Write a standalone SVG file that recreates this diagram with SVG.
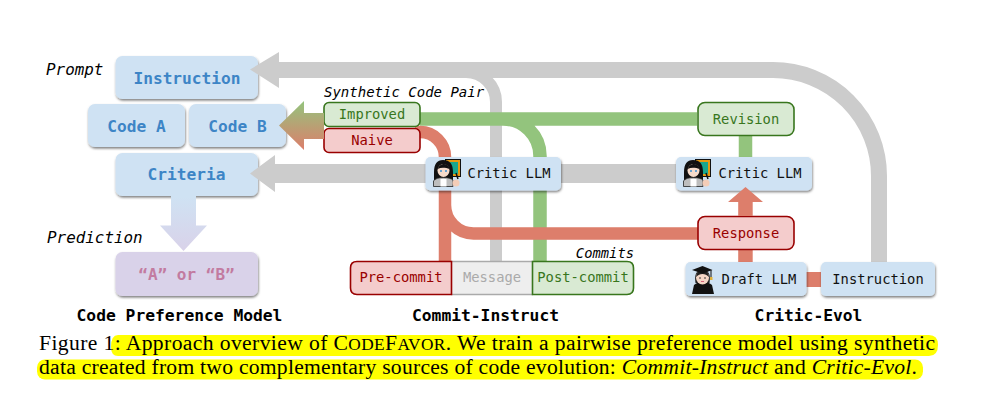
<svg xmlns="http://www.w3.org/2000/svg" xmlns:xlink="http://www.w3.org/1999/xlink" width="985" height="419" viewBox="0 0 985 419">
<style>
text{font-family:"DejaVu Sans Mono","Liberation Mono",monospace}
.cap,.cap tspan{font-family:"Liberation Serif","Times New Roman",serif;font-size:21.6px;fill:#000}
.cap .sc{font-size:17.3px}
.i{font-style:italic}
.lab{font-size:15.9px;fill:#000;font-style:italic}
.ttl{font-size:16.3px;font-weight:700;fill:#000;text-anchor:middle}
.b{fill:#cfe2f3}
.bt{font-size:16.2px;font-weight:600;fill:#3d85c6;text-anchor:middle}
.bs{font-size:13.8px;fill:#111;text-anchor:middle}
.g{fill:#d9ead3;stroke:#38761d;stroke-width:1.6}
.gt{font-size:13.8px;fill:#38761d;text-anchor:middle}
.r{fill:#f4cccc;stroke:#990000;stroke-width:1.6}
.rt{font-size:13.8px;fill:#990000;text-anchor:middle}
.ln{fill:none}
.sh{filter:url(#sd)}
</style>
<defs>
<filter id="sd" x="-10%" y="-15%" width="120%" height="140%"><feDropShadow dx="0.6" dy="1.6" stdDeviation="0.8" flood-color="#000" flood-opacity="0.5"/></filter>
<linearGradient id="gr" gradientUnits="userSpaceOnUse" x1="0" y1="101" x2="0" y2="150"><stop offset="0" stop-color="#93c47d"/><stop offset="1" stop-color="#dd7e6b"/></linearGradient>
<linearGradient id="pu" gradientUnits="userSpaceOnUse" x1="0" y1="197" x2="0" y2="251"><stop offset="0" stop-color="#cfe2f3"/><stop offset="1" stop-color="#d9d2e9"/></linearGradient>
<symbol id="teacher" viewBox="0 0 28 28" overflow="visible">
<rect x="12.500" y="0.500" width="15" height="17" fill="#e69a12" stroke="#111" stroke-width="1"/>
<rect x="17" y="3" width="8" height="12" fill="#17a78e"/>
<path d="M1,27V13C1,5 4,1 10,1C17,1 20,5 20,13V21H1Z" fill="#111"/>
<path d="M0.500,27.500V22C2,19.500 6,18.500 10.500,18.500C15,18.500 18.500,19.500 20,21V27.500Z" fill="#bdbdbd" stroke="#222" stroke-width="0.800"/>
<rect x="7.500" y="20" width="6" height="7.500" fill="#fff"/>
<ellipse cx="10.500" cy="11.500" rx="6" ry="6.500" fill="#f7dccb"/>
<path d="M4.500,10C6,6 9,5 11,5C14,5 16,7 16.500,10C13,9 9,8 4.500,10Z" fill="#111"/>
<circle cx="8" cy="12" r="1" fill="#3b8fd1"/><circle cx="13" cy="12" r="1" fill="#3b8fd1"/>
<path d="M23,14L25,20" stroke="#111" stroke-width="1.500"/>
<ellipse cx="23" cy="24" rx="3.500" ry="3.500" fill="#f3cdb7"/>
</symbol>
<symbol id="student" viewBox="0 0 22 28" overflow="visible">
<path d="M0,28L2,19C4,17 7,16 11,16C15,16 18,17 20,19L22,28Z" fill="#111"/>
<path d="M3.500,17C2.500,11 3.500,7 6,5H15C17.500,7 18.500,11 17.500,17Z" fill="#222"/>
<ellipse cx="10.500" cy="11.500" rx="6.500" ry="7" fill="#f5d6c6"/>
<path d="M4,11C4.500,8 5.500,6 7,5H14C15.500,6 16.500,8 17,11C15,9 13,8 10.500,8C8,8 6,9 4,11Z" fill="#222"/>
<path d="M0,4L10.500,0L20.500,4L10.500,7.500Z" fill="#111"/>
<path d="M19,4V11" stroke="#111" stroke-width="1"/><rect x="18" y="11" width="2.500" height="3" fill="#e2b33c"/>
<circle cx="8" cy="12" r="0.800" fill="#222"/><circle cx="13" cy="12" r="0.800" fill="#222"/>
<path d="M9,15.500H12" stroke="#c46" stroke-width="0.800"/>
</symbol>
</defs>

<g id="caption-highlight" fill="#ffff00">
<path d="M118,335H929Q938,335 938,345Q938,356 929,356H118Q111,356 111,347Q111,335 118,335Z"/>
<rect x="37" y="359.500" width="886" height="20" rx="8"/>
</g>

<g id="connectors">
<path class="ln" d="M496,261V102A30,30 0 0 0 466,72" stroke="#cccccc" stroke-width="12"/>
<path class="ln" d="M879,263V176A106,106 0 0 0 773,70H275" stroke="#cccccc" stroke-width="16"/>
<path class="ln" d="M680,173.500H270" stroke="#cccccc" stroke-width="19"/>
<path class="ln" d="M420,119H697M503,119A37,37 0 0 1 540,156V262M745.500,135V158" stroke="#93c47d" stroke-width="13.500"/>
<path class="ln" d="M415,132H420A25,25 0 0 1 445,157V262M445,205A28.500,28.500 0 0 0 473.500,233.500H698" stroke="#dd7e6b" stroke-width="12.500"/>
<rect x="738.200" y="249" width="14.500" height="14" fill="#dd7e6b"/>
<rect x="806" y="272" width="16" height="15" fill="#dd7e6b"/>
</g>

<g id="node-instruction-prompt"><rect class="b sh" x="115.500" y="56" width="142.500" height="43" rx="7"/><text class="bt" x="187" y="84">Instruction</text></g>
<g id="node-code-a"><rect class="b sh" x="88" y="104" width="97" height="43" rx="7"/><text class="bt" x="136.500" y="132">Code A</text></g>
<g id="node-code-b"><rect class="b sh" x="189" y="104" width="97" height="43" rx="7"/><text class="bt" x="237.500" y="132">Code B</text></g>
<g id="node-criteria"><rect class="b sh" x="115.500" y="153" width="142.500" height="43" rx="7"/><text class="bt" x="186.500" y="180">Criteria</text></g>
<g id="node-prediction"><rect class="sh" fill="#d9d2e9" x="115.500" y="252" width="142.500" height="44" rx="7"/><text x="186.500" y="280" font-size="16" font-weight="600" fill="#c27ba0" text-anchor="middle">“A” or “B”</text></g>

<g id="node-improved"><rect class="g" x="324" y="102.500" width="96" height="24" rx="5"/><text class="gt" x="372" y="119">Improved</text></g>
<g id="node-naive"><rect class="r" x="324" y="128.500" width="96" height="24" rx="5"/><text class="rt" x="372" y="145">Naive</text></g>

<g id="node-critic-1"><rect class="b sh" x="425.500" y="157" width="135.500" height="33.500" rx="5"/><use href="#teacher" x="433" y="159" width="28" height="28"/><text class="bs" x="509" y="178">Critic LLM</text></g>
<g id="node-critic-2"><rect class="b sh" x="676" y="157" width="136" height="33.500" rx="5"/><use href="#teacher" x="683" y="159" width="28" height="28"/><text class="bs" x="760" y="178">Critic LLM</text></g>
<g id="node-revision"><rect class="g" x="698" y="102.500" width="96" height="33" rx="7"/><text class="gt" x="746" y="124">Revision</text></g>
<g id="node-response"><rect class="r" x="698" y="216.500" width="96" height="33" rx="7"/><text class="rt" x="746" y="238">Response</text></g>
<g id="node-draft"><rect class="b sh" x="685.500" y="262" width="121" height="34" rx="5"/><use href="#student" x="692" y="266" width="22" height="28"/><text class="bs" x="759" y="284">Draft LLM</text></g>
<g id="node-instruction-evol"><rect class="b sh" x="821" y="262" width="114" height="34" rx="5"/><text class="bs" x="878" y="284">Instruction</text></g>

<g id="node-message"><rect x="451" y="261" width="82" height="34" fill="#eeeeee"/><path d="M451,261.500H533M451,294.500H533" stroke="#aaaaaa" stroke-width="1.600" fill="none"/><text x="492" y="282" font-size="13.800" fill="#aaaaaa" text-anchor="middle">Message</text></g>
<g id="node-pre-commit"><path class="r" d="M451.500,261.500V294.500H357Q350.500,294.500 350.500,288V268Q350.500,261.500 357,261.500Z"/><text class="rt" x="401" y="282">Pre-commit</text></g>
<g id="node-post-commit"><path class="g" d="M532.500,261.500V294.500H627Q633.500,294.500 633.500,288V268Q633.500,261.500 627,261.500Z"/><text class="gt" x="583" y="282">Post-commit</text></g>

<g id="connector-arrowheads">
<polygon points="250,69.500 279,52 279,62 290,62 290,78 279,78 279,88" fill="#cccccc"/>
<polygon points="250,173.500 275,155 275,164 290,164 290,183 275,183 275,192" fill="#cccccc"/>
<path d="M279,125.500L304,101V113H324V139H304V150Z" fill="url(#gr)"/>
<polygon points="745.500,187 763,202 752.700,202 752.700,216 738.200,216 738.200,202 728,202" fill="#dd7e6b"/>
<polygon points="171,196 196,196 196,225.500 207,225.500 183.500,251 160,225.500 171,225.500" fill="url(#pu)"/>
</g>

<g id="labels">
<text class="lab" x="46" y="75">Prompt</text>
<text class="lab" x="47" y="243">Prediction</text>
<text x="324" y="97" font-size="14" font-style="italic" fill="#000">Synthetic Code Pair</text>
<text x="634" y="258" font-size="13.800" font-style="italic" fill="#000" text-anchor="end">Commits</text>
<text class="ttl" x="179.500" y="321">Code Preference Model</text>
<text class="ttl" x="485.500" y="321">Commit-Instruct</text>
<text class="ttl" x="808.500" y="321">Critic-Evol</text>
</g>

<g id="caption">
<text class="cap" x="39" y="350" textLength="896" lengthAdjust="spacing">Figure 1: Approach overview of C<tspan class="sc">ODE</tspan>F<tspan class="sc">AVOR</tspan>. We train a pairwise preference model using synthetic</text>
<text class="cap" x="39" y="374" textLength="878" lengthAdjust="spacing">data created from two complementary sources of code evolution: <tspan class="i">Commit-Instruct</tspan> and <tspan class="i">Critic-Evol</tspan>.</text>
</g>
</svg>
